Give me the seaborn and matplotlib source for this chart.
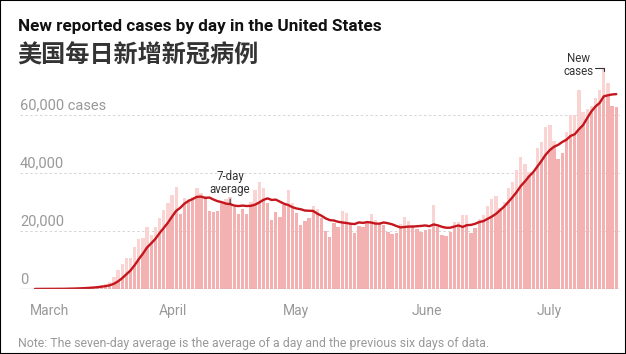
import numpy as np
import pandas as pd
import matplotlib
matplotlib.use("Agg")
import matplotlib.pyplot as plt
import matplotlib.transforms as mtransforms
from matplotlib.patches import Rectangle
import seaborn as sns

# ─────────────────────────────────────────────
# DATA  (daily new cases)
# ─────────────────────────────────────────────
START_DATE = "2020-03-01"

cases = [
    # March
    20, 25, 30, 40, 60, 80, 110, 120, 200, 270,
    380, 450, 550, 700, 850, 1100, 1500, 1800,
    2500, 4200, 6500, 8500, 10600, 10600, 14600, 17200, 17500, 21300, 18600, 21300, 24400,
    # April
    27200, 29500, 32400, 35300, 26000, 31300, 31000,
    31800, 34700, 33000, 32000, 27000, 26400, 27000, 29500, 31200, 31800, 28400,
    25900, 27500, 26000, 30000, 34000, 37000, 34700, 29500, 23800, 26700, 25000, 29000,
    # May
    34000, 29500, 26300, 22000, 23600, 24400, 28600, 27500, 24400, 20000, 17800,
    22600, 21300, 27000, 26300, 22600, 19200, 21700, 21500, 23200, 25900, 23800, 22500,
    22000, 19800, 19000, 19200, 22400, 24700, 23600, 22000,
    # June
    20600, 19800, 20300, 20600, 29000, 21300, 18600, 18300, 19800, 23200, 23200,
    25500, 25500, 19200, 21000,
    24000, 25500, 28500, 31000, 32000, 28000, 30000, 35000, 37000, 41000, 45600,
    43000, 40500, 40000, 48500,
    # July
    50800, 56000, 56600, 51000, 45000, 47000, 54000, 60000, 60000, 68600,
    61000, 62000, 63000, 66000, 68600, 76000, 71000, 63000, 62800,
]

ytick_vals   = [0, 20000, 40000, 60000]
ytick_labels = ["0", "20,000", "40,000", "60,000 cases"]

TITLE    = "New reported cases by day in the United States"
SUBTITLE = "美国每日新增新冠病例"
NOTE     = "Note: The seven-day average is the average of a day and the previous six days of data."

BAR_LIGHT = "#fad3d3"
BAR_DARK  = "#f4b1b1"
LINE_RED  = "#c4161c"
GRAY_TXT  = "#999999"

# ─────────────────────────────────────────────
# FRAME
# ─────────────────────────────────────────────
dates = pd.date_range(START_DATE, periods=len(cases), freq="D")
df = pd.DataFrame({"day": np.arange(len(cases)), "cases": cases})
df["avg"] = df["cases"].rolling(7, min_periods=1).mean()
df["under"] = np.minimum(df["cases"], df["avg"])

month_starts = np.where(dates.day == 1)[0]
month_names = [d.strftime("%B") for d in dates[month_starts]]

# ─────────────────────────────────────────────
# STYLE
# ─────────────────────────────────────────────
sns.set_style("white")
plt.rcParams["font.family"] = ["Roboto", "Noto Sans CJK SC", "DejaVu Sans"]

W, H = 626, 354
fig = plt.figure(figsize=(W / 100, H / 100), dpi=100)
px_per_day = 4.152
ax = fig.add_axes([20 / W, (H - 289) / H, 600 / W, 229 / H])

# bars: full height light, part under the average darker
sns.barplot(data=df, x="day", y="cases", native_scale=True, width=1.0, gap=0.2,
            color=BAR_LIGHT, saturation=1, errorbar=None, linewidth=0,
            ax=ax, zorder=2)
sns.barplot(data=df, x="day", y="under", native_scale=True, width=1.0, gap=0.2,
            color=BAR_DARK, saturation=1, errorbar=None, linewidth=0,
            ax=ax, zorder=3)
sns.lineplot(data=df, x="day", y="avg", color=LINE_RED, lw=1.7, ax=ax, zorder=4)

x0 = -15 / px_per_day
ax.set_xlim(x0, x0 + 600 / px_per_day)
ax.set_ylim(0, 229 / 2.9 * 1000)

# gridlines + y labels sitting above them
for v, lab in zip(ytick_vals, ytick_labels):
    if v > 0:
        ax.axhline(v, color="#d5d5d5", lw=0.7, ls=(0, (2.5, 2.5)), zorder=1)
    trans = mtransforms.offset_copy(ax.get_yaxis_transform(), fig=fig, x=0, y=2.5, units="dots")
    ax.text(0, v, lab, transform=trans, ha="left", va="bottom",
            fontsize=10.5, color=GRAY_TXT, zorder=5)
ax.axhline(0, color="#aaaaaa", lw=0.9, zorder=5)

for s in ax.spines.values():
    s.set_visible(False)
ax.set_yticks([])
ax.set_xticks(month_starts)
ax.set_xticklabels(month_names)
ax.tick_params(axis="x", length=4, width=0.8, color="#999999", pad=7,
               labelsize=10, labelcolor=GRAY_TXT)
shift = mtransforms.ScaledTranslation(-5 / 100, 0, fig.dpi_scale_trans)
for lbl in ax.get_xticklabels():
    lbl.set_ha("left")
    lbl.set_transform(lbl.get_transform() + shift)
ax.set_xlabel("")
ax.set_ylabel("")

# annotations
a_day = 47
ax.annotate("7-day\naverage", xy=(a_day, df["avg"][a_day]), xytext=(0, 6),
            textcoords="offset points", ha="center", va="bottom",
            fontsize=8.3, color="#333333", linespacing=0.95,
            arrowprops=dict(arrowstyle="-", color="#333333", lw=0.8,
                            shrinkA=0, shrinkB=0), zorder=6)

p = int(df["cases"].idxmax())
peak = df["cases"][p]
ax.plot([p - 2.2, p, p], [peak + 300, peak + 300, peak - 900],
        color="#333333", lw=0.8, zorder=6, clip_on=False)
ax.text(p - 6.0, peak + 1200, "New\ncases", ha="center", va="center",
        fontsize=8.3, color="#333333", linespacing=0.95, zorder=6)

# titles and note
fig.text(18 / W, 1 - 27 / H, TITLE, ha="left", va="center",
         fontsize=12.3, fontweight="bold", color="#111111")
fig.text(17 / W, 1 - 56 / H, SUBTITLE, ha="left", va="center",
         fontsize=17.4, fontweight="bold", color="#333333",
         family=["Noto Sans CJK SC", "DejaVu Sans"])
fig.text(18 / W, 1 - 343 / H, NOTE, ha="left", va="center",
         fontsize=8.9, color=GRAY_TXT)

fig.patches.append(Rectangle((0, 0), 1, 1, transform=fig.transFigure,
                             fill=False, edgecolor="black", lw=1.5))

fig.savefig("out.png", dpi=100)
